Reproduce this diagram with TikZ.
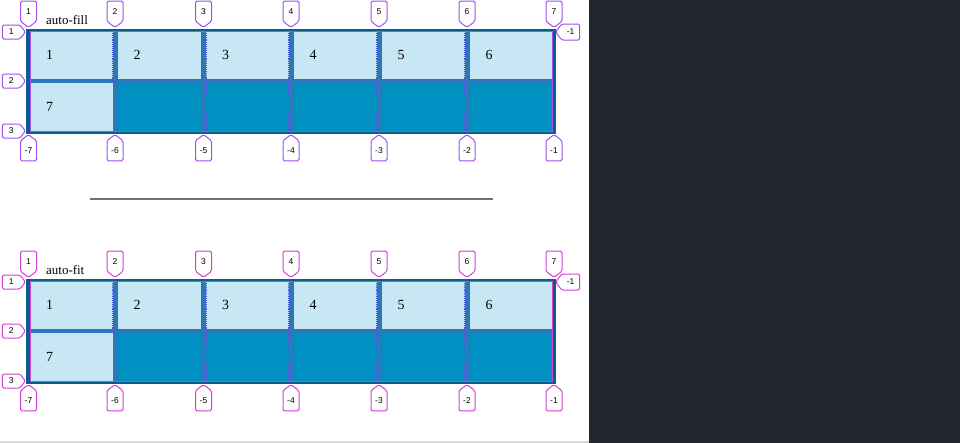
\documentclass[tikz,border=0pt]{standalone}
\usepackage{fontspec}
\setmainfont{Liberation Serif}
\newfontfamily\lblfont{Liberation Sans}
\usetikzlibrary{shapes.symbols,positioning}

\definecolor{gridborder}{HTML}{0B5E8C}
\definecolor{celllight}{HTML}{C8E7F4}
\definecolor{celldark}{HTML}{0091C2}
\definecolor{gapblue}{HTML}{2C78B8}
\definecolor{gapdot}{HTML}{4A58E0}
\definecolor{fillline}{HTML}{A050F0}
\definecolor{fitline}{HTML}{D63FD6}
\definecolor{panel}{HTML}{22282D}
\definecolor{rulegray}{HTML}{707070}

\tikzset{
  cell/.style={draw=none,inner sep=0pt,anchor=north west,minimum height=48bp},
  num/.style={anchor=west,inner sep=0pt,font=\fontsize{14}{14}\selectfont},
  title/.style={anchor=base west,inner sep=0pt,font=\fontsize{13}{13}\selectfont},
  gapdots/.style={gapdot,densely dotted,line width=0.9bp},
  lbl/.style={signal,signal from=nowhere,draw=#1,fill=white,line width=1bp,rounded corners=1.5bp,
    inner sep=0pt,signal pointer angle=106,font=\lblfont\fontsize{8.5}{8.5}\selectfont},
  toplbl/.style={lbl=#1,signal to=south,anchor=south,minimum width=16bp,minimum height=22bp},
  botlbl/.style={lbl=#1,signal to=north,anchor=north,minimum width=16bp,minimum height=23bp},
  leftlbl/.style={lbl=#1,signal to=east,anchor=east,minimum width=23bp,minimum height=14bp},
  rightlbl/.style={lbl=#1,signal to=west,anchor=west,minimum width=24bp,minimum height=16bp}
}

% one grid overlay: #1 line colour, #2 title, #3 name prefix
\newcommand{\gridpanel}[3]{%
  \fill[gridborder] (26bp,-28.5bp) rectangle (556bp,-134bp);
  \fill[gapblue] (30bp,-31bp) rectangle (552bp,-131bp);
  \foreach \i/\x/\w in {1/30/82.5,2/117.5/83.5,3/206/82.5,4/293.5/83,5/381.5/83,6/469.5/82.5}{
    \node[cell,fill=celllight,minimum width=\w bp] (#3c\i) at (\x bp,-31bp) {};
    \node[num] (#3n\i) at ([xshift=16bp]#3c\i.west) {\i};
    \node[cell,fill=celldark,minimum width=\w bp] (#3d\i) at (\x bp,-83bp) {};
    \draw[gapdots] (#3c\i.north west) -- (#3d\i.south west);
    \draw[gapdots] (#3c\i.north east) -- (#3d\i.south east);
  }
  \node[cell,fill=celllight,minimum width=82.5bp] (#3c7) at (30bp,-83bp) {};
  \node[num] (#3n7) at ([xshift=16bp]#3c7.west) {7};
  \draw[#1,line width=0.8bp] (#3c1.north west) rectangle (#3d6.south east);
  \node[title] (#3title) at (46bp,-24bp) {#2};
  \foreach \k/\x in {1/28.5,2/115,3/203.5,4/291,5/379,6/467,7/554}
    \node[toplbl=#1] (#3t\k) at (\x bp,-28bp) {\k};
  \foreach \k/\x in {-7/28.5,-6/115,-5/203.5,-4/291,-3/379,-2/467,-1/554}
    \node[botlbl=#1] (#3b\k) at (\x bp,-134bp) {\k};
  \foreach \k/\y in {1/32,2/81,3/131}
    \node[leftlbl=#1] (#3l\k) at (26bp,-\y bp) {\k};
  \node[rightlbl=#1] (#3r1) at (555bp,-32bp) {-1};
}

\begin{document}
\begin{tikzpicture}
\useasboundingbox (0bp,0bp) rectangle (960bp,-443bp);
\fill[white] (0bp,0bp) rectangle (589bp,-443bp);
\fill[panel] (589bp,0bp) rectangle (960bp,-443bp);
\fill[black!15] (0bp,-441bp) rectangle (589bp,-443bp);

\gridpanel{fillline}{auto-fill}{fill}

\draw[rulegray,line width=1.5bp] (90bp,-199bp) -- (493bp,-199bp);

\begin{scope}[yshift=-250bp]
\gridpanel{fitline}{auto-fit}{fit}
\end{scope}
\end{tikzpicture}
\end{document}
